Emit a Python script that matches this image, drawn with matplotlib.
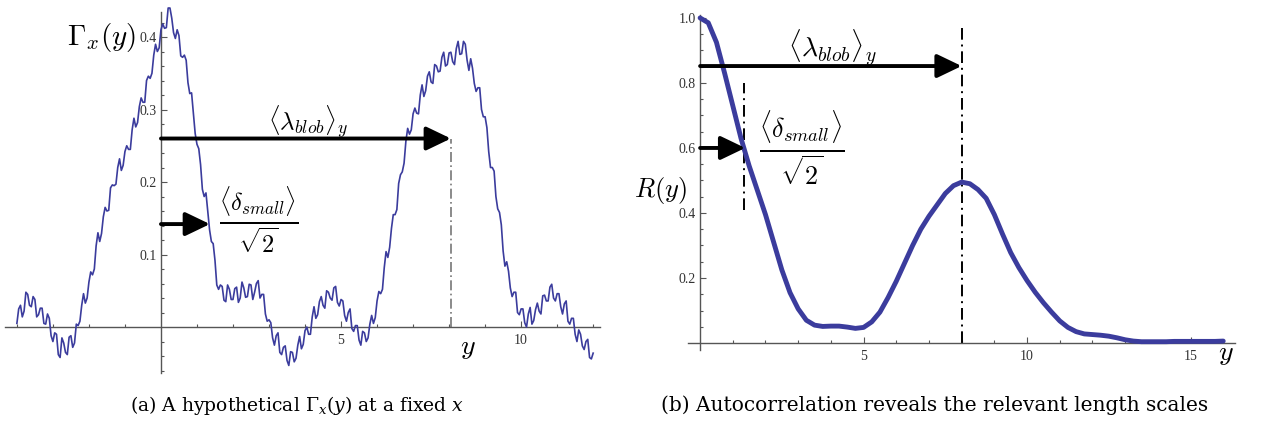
import numpy as np
import matplotlib
matplotlib.use('Agg')
import matplotlib.pyplot as plt
from matplotlib.ticker import FixedLocator

plt.rcParams['mathtext.fontset'] = 'cm'

# (a) noisy profile Gamma_x(y) (values in 1/1000)
# samples at y = -4.0, -3.9, ..., 12.0
gamma_y_a = np.round(np.arange(-40, 121) / 10.0, 2)
gamma_milli_a = [
    5, 30, 22, 45, 28, 38, 17, 26, 4, 12,
    -20, -10, -42, -22, -38, -12, -22, 2, 30, 33,
    62, 72, 112, 118, 152, 160, 192, 195, 220, 216,
    242, 245, 272, 276, 304, 310, 340, 343, 375, 380,
    410, 412, 440, 426, 398, 402, 372, 368, 322, 295,
    252, 224, 180, 160, 118, 92, 52, 56, 35, 52,
    38, 55, 40, 54, 42, 58, 48, 64, 45, 18,
    10, -15, -12, -35, -28, -46, -34, -48, -25, -30,
    -5, -10, 14, 12, 35, 30, 50, 40, 54, 34,
    38, 16, 20, -2, 2, -18, -6, -20, 4, 5,
    36, 46, 82, 96, 136, 155, 198, 214, 256, 266,
    294, 295, 320, 318, 346, 338, 362, 352, 372, 360,
    378, 366, 384, 376, 394, 368, 370, 336, 330, 300,
    290, 242, 220, 180, 158, 105, 90, 54, 48, 20,
    25, 6, 18, 4, 24, 22, 43, 36, 55, 40,
    46, 28, 32, 8, 12, -10, -4, -26, -20, -42,
    -36,
]
# samples at y = -3.95, -3.85, ..., 11.95
gamma_y_b = np.round(np.arange(-40, 120) / 10.0 + 0.05, 2)
gamma_milli_b = [
    25, 14, 48, 30, 42, 14, 26, 5, 18, -12,
    -8, -38, -15, -35, -14, -28, 4, 8, 46, 40,
    76, 80, 130, 129, 165, 161, 196, 197, 232, 223,
    250, 245, 288, 282, 316, 310, 346, 350, 390, 385,
    418, 413, 440, 406, 410, 374, 375, 337, 323, 267,
    246, 190, 185, 134, 115, 58, 58, 37, 58, 38,
    53, 34, 62, 41, 59, 38, 60, 40, 45, 8,
    6, -25, -8, -38, -26, -53, -35, -43, -13, -24,
    0, -10, 28, 17, 42, 26, 48, 37, 56, 29,
    36, 8, 25, -6, 2, -25, -8, -15, 16, 13,
    49, 52, 104, 110, 155, 162, 210, 226, 274, 272,
    302, 294, 334, 326, 352, 336, 360, 353, 379, 362,
    379, 362, 394, 377, 390, 354, 357, 325, 330, 290,
    275, 220, 215, 163, 141, 84, 77, 42, 48, 17,
    25, 0, 27, 9, 33, 18, 44, 36, 59, 36,
    46, 18, 36, 4, 12, -20, -10, -31, -17, -44,
]

# (b) autocorrelation R(y), every 0.25 in y
r_y = np.arange(0, 65) * 0.25
r_vals = [
    1.000, 0.985, 0.925, 0.830, 0.730, 0.630, 0.545, 0.470, 0.395, 0.310,
    0.225, 0.155, 0.105, 0.070, 0.055, 0.051, 0.052, 0.052, 0.049, 0.045,
    0.048, 0.065, 0.095, 0.140, 0.190, 0.245, 0.300, 0.350, 0.390, 0.425,
    0.460, 0.484, 0.495, 0.490, 0.472, 0.445, 0.395, 0.335, 0.278, 0.232,
    0.192, 0.156, 0.124, 0.095, 0.068, 0.048, 0.035, 0.028, 0.026, 0.024,
    0.021, 0.016, 0.010, 0.006, 0.004, 0.004, 0.004, 0.004, 0.005, 0.005,
    0.005, 0.005, 0.005, 0.005, 0.006,
]

lambda_blob = 8.0
blue = '#3b3c9d'
axis_col = '#555555'

gy = np.concatenate([gamma_y_a, gamma_y_b])
gv = np.concatenate([gamma_milli_a, gamma_milli_b]) / 1000.0
order = np.argsort(gy)
gy, gv = gy[order], gv[order]


def mathematica_axes(ax):
    for s in ['top', 'right']:
        ax.spines[s].set_visible(False)
    for s in ['left', 'bottom']:
        ax.spines[s].set_position(('data', 0))
        ax.spines[s].set_color(axis_col)
        ax.spines[s].set_linewidth(1.0)
    ax.tick_params(which='both', direction='in', color=axis_col, width=0.8,
                   labelsize=10, labelcolor='#333333')
    ax.tick_params(axis='x', pad=5)
    ax.tick_params(axis='y', pad=3)
    ax.tick_params(which='major', length=4)
    ax.tick_params(which='minor', length=2.5)
    for lab in ax.get_xticklabels() + ax.get_yticklabels():
        lab.set_fontfamily('Liberation Serif')
    ax.patch.set_visible(False)


def arrow(ax, x0, x1, y):
    ax.annotate('', xy=(x1, y), xytext=(x0, y),
                arrowprops=dict(arrowstyle='-|>,head_length=0.75,head_width=0.36',
                                lw=2.8, color='black', shrinkA=0, shrinkB=0,
                                mutation_scale=20),
                annotation_clip=False)


fig = plt.figure(figsize=(12.61, 4.23), dpi=100)

# ---- (a)
ax1 = fig.add_axes([5 / 1261, 1 - 373 / 423, 595 / 1261, 361 / 423])
ax1.plot(gy, gv, color=blue, lw=1.2, clip_on=False, zorder=3)
ax1.set_xlim(-4.33, 12.19)
ax1.set_ylim(-0.0634, 0.4345)
ax1.xaxis.set_major_locator(FixedLocator([5, 10]))
ax1.xaxis.set_minor_locator(FixedLocator([k for k in range(-4, 13) if k not in (0, 5, 10)]))
ax1.yaxis.set_major_locator(FixedLocator([0.1, 0.2, 0.3, 0.4]))
ax1.yaxis.set_minor_locator(FixedLocator([k * 0.02 for k in range(-3, 22) if k % 5 != 0]))
ax1.set_xticklabels(['5', '10'])
ax1.set_yticklabels(['0.1', '0.2', '0.3', '0.4'])
mathematica_axes(ax1)

ax1.plot([lambda_blob + 0.05, lambda_blob + 0.05], [0, 0.26], color='#777777',
         lw=1.2, ls=(0, (6, 2, 1, 2)), zorder=2)
arrow(ax1, 0, lambda_blob + 0.05, 0.26)
arrow(ax1, 0, 1.36, 0.142)
ax1.text(4.1, 0.282, r'$\langle\lambda_{blob}\rangle_y$', fontsize=18,
         ha='center', va='center')
ax1.text(2.7, 0.148, r'$\frac{\langle\delta_{small}\rangle}{\sqrt{2}}$', fontsize=25,
         ha='center', va='center')
ax1.text(-1.64, 0.40, r'$\Gamma_x(y)$', fontsize=21, ha='center', va='center')
ax1.text(8.53, -0.027, r'$y$', fontsize=20, ha='center', va='center')

# ---- (b)
ax2 = fig.add_axes([688 / 1261, 1 - 350 / 423, 547 / 1261, 335 / 423])
ax2.plot(r_y, r_vals, color=blue, lw=3.5, solid_capstyle='round', clip_on=False, zorder=3)
ax2.set_xlim(-0.37, 16.36)
ax2.set_ylim(-0.0215, 1.009)
ax2.xaxis.set_major_locator(FixedLocator([5, 10, 15]))
ax2.xaxis.set_minor_locator(FixedLocator([k for k in range(1, 17) if k % 5 != 0]))
ax2.yaxis.set_major_locator(FixedLocator([0.2, 0.4, 0.6, 0.8, 1.0]))
ax2.yaxis.set_minor_locator(FixedLocator([k * 0.05 for k in range(1, 20) if k % 4 != 0]))
ax2.set_xticklabels(['5', '10', '15'])
ax2.set_yticklabels(['0.2', '0.4', '0.6', '0.8', '1.0'])
mathematica_axes(ax2)

ax2.plot([lambda_blob, lambda_blob], [0, 0.978], color='black', lw=1.4,
         ls=(0, (6, 2.5, 1, 2.5)), zorder=2)
ax2.plot([1.33, 1.33], [0.41, 0.80], color='black', lw=1.4,
         ls=(0, (6, 2.5, 1, 2.5)), zorder=2)
arrow(ax2, 0, lambda_blob, 0.852)
arrow(ax2, 0, 1.38, 0.6)
ax2.text(4.04, 0.91, r'$\langle\lambda_{blob}\rangle_y$', fontsize=20,
         ha='center', va='center')
ax2.text(3.12, 0.597, r'$\frac{\langle\delta_{small}\rangle}{\sqrt{2}}$', fontsize=27,
         ha='center', va='center')
ax2.text(-1.22, 0.47, r'$R(y)$', fontsize=19, ha='center', va='center')
ax2.text(16.09, -0.03, r'$y$', fontsize=20, ha='center', va='center')

# captions
fig.text(297 / 1261, 1 - 405 / 423, r'(a) A hypothetical $\Gamma_x(y)$ at a fixed $x$',
         family='DejaVu Serif', fontsize=13.5, ha='center', va='center',
         math_fontfamily='dejavuserif')
fig.text(935 / 1261, 1 - 405 / 423, '(b) Autocorrelation reveals the relevant length scales',
         family='DejaVu Serif', fontsize=14.5, ha='center', va='center')

fig.savefig('out.png', dpi=100)
